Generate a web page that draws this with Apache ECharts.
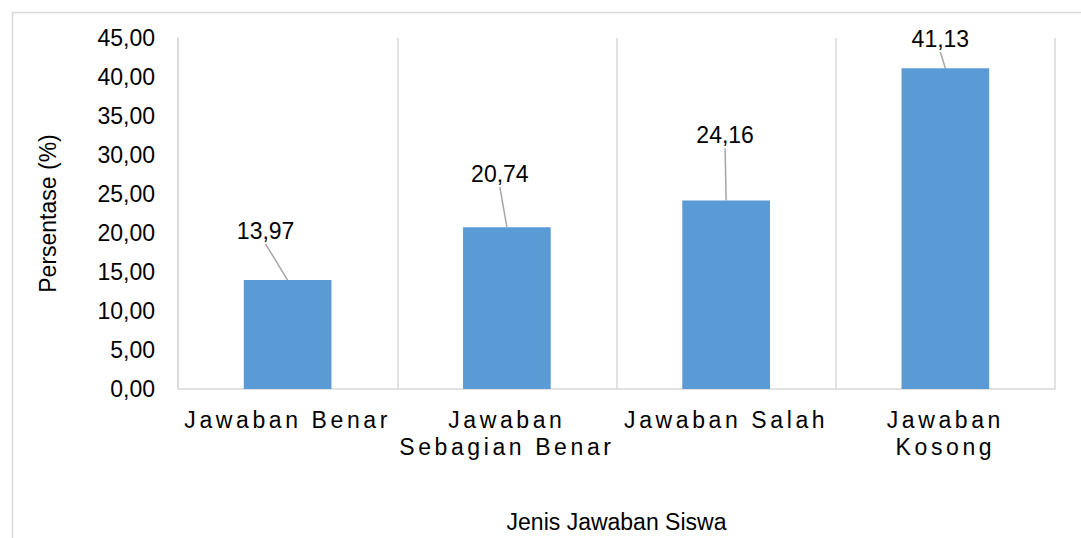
<!DOCTYPE html>
<html>
<head>
<meta charset="utf-8">
<script src="https://cdn.jsdelivr.net/npm/echarts@6/dist/echarts.min.js"></script>
<style>
  html, body { margin: 0; padding: 0; background: #fff; }
  #chart { width: 1081px; height: 538px; }
  /* category labels are letter-spaced in the original */
  #chart text[fill="#010101"] { letter-spacing: 3.6px; }
</style>
</head>
<body>
<div id="chart"></div>
<script>
const categories = ['Jawaban Benar', 'Jawaban\nSebagian Benar', 'Jawaban Salah', 'Jawaban\nKosong']
const percentages = [13.97, 20.74, 24.16, 41.13]
const yTicks = [0, 45, 5] // min, max, interval

const fmt = v => v.toFixed(2).replace('.', ',')
// label displacement from default top position
const labelShift = [[-22, -33], [-7, -37], [-1, -49], [-5, -13]]
const labelDist = 5

const chart = echarts.init(document.getElementById('chart'), null, { renderer: 'svg' })
chart.setOption({
  animation: false,
  textStyle: { fontFamily: 'Liberation Sans, Arial, sans-serif' },
  graphic: [{
    type: 'rect',
    shape: { x: 12.5, y: 12.5, width: 1200, height: 700 },
    style: { fill: 'none', stroke: '#d9d9d9', lineWidth: 1.5 },
    silent: true
  }],
  grid: { left: 178, right: 26, top: 38, bottom: 144 },
  xAxis: {
    type: 'category',
    data: categories,
    name: 'Jenis Jawaban Siswa',
    nameLocation: 'middle',
    nameGap: 121,
    nameTextStyle: { fontSize: 23, color: '#000' },
    axisLine: { lineStyle: { color: '#d9d9d9', width: 1.5 } },
    axisTick: { show: false },
    splitLine: { show: true, lineStyle: { color: '#d9d9d9', width: 1.5 } },
    axisLabel: {
      interval: 0,
      fontSize: 23,
      color: '#010101',
      margin: 17,
      lineHeight: 27
    }
  },
  yAxis: {
    type: 'value',
    min: yTicks[0],
    max: yTicks[1],
    interval: yTicks[2],
    name: 'Persentase (%)',
    nameLocation: 'middle',
    nameGap: 119,
    nameRotate: 90,
    nameTextStyle: { fontSize: 23, color: '#000' },
    axisLine: { show: true, lineStyle: { color: '#d9d9d9', width: 1.5 } },
    axisTick: { show: false },
    splitLine: { show: false },
    axisLabel: { fontSize: 23, color: '#000', margin: 23, formatter: fmt }
  },
  series: [{
    type: 'bar',
    data: percentages,
    barWidth: '40%',
    itemStyle: { color: '#5b9bd5' },
    label: {
      show: true,
      position: 'top',
      distance: labelDist,
      fontSize: 23,
      color: '#000',
      formatter: p => fmt(p.value)
    },
    labelLayout: p => ({ dx: labelShift[p.dataIndex][0], dy: labelShift[p.dataIndex][1] })
  }, {
    // leader lines from each moved label down to its bar top
    type: 'custom',
    silent: true,
    data: percentages.map((v, i) => [i, v]),
    renderItem: (params, api) => {
      const i = api.value(0)
      const [bx, by] = api.coord([i, api.value(1)])
      const [dx, dy] = labelShift[i]
      return {
        type: 'line',
        shape: { x1: bx + dx, y1: by - labelDist + dy + 2, x2: bx, y2: by },
        style: { stroke: '#a6a6a6', lineWidth: 1.5 }
      }
    }
  }]
})
</script>
</body>
</html>
